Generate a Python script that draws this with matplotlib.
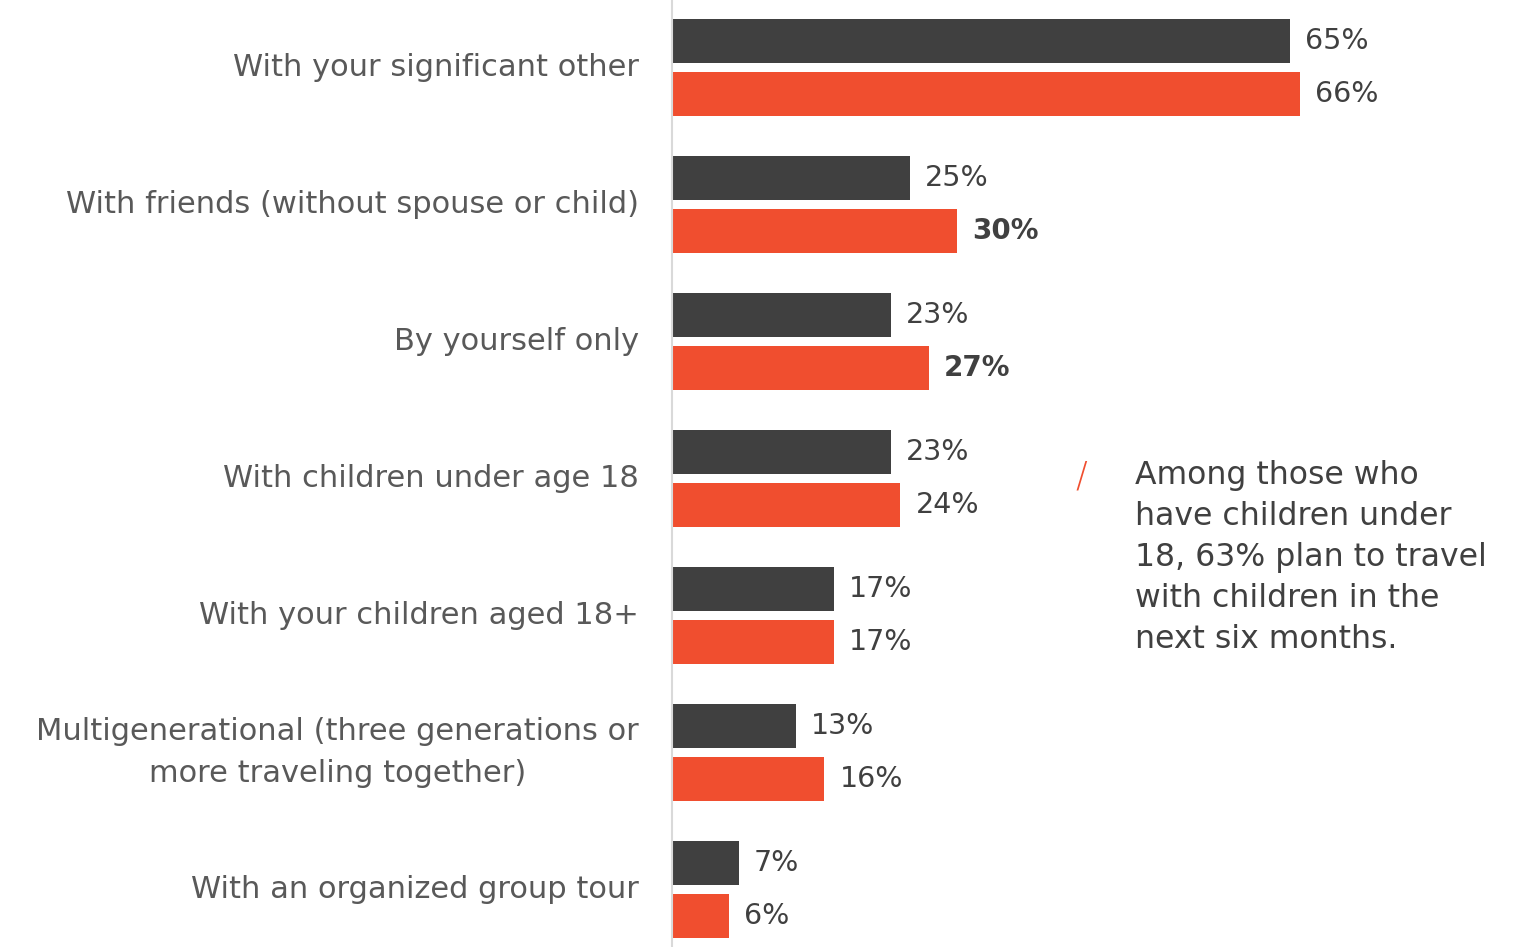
import matplotlib.pyplot as plt

plt.rcParams['font.family'] = ['DejaVu Sans']

categories = [
    "With your significant other",
    "With friends (without spouse or child)",
    "By yourself only",
    "With children under age 18",
    "With your children aged 18+",
    "Multigenerational (three generations or\nmore traveling together)",
    "With an organized group tour",
]
dark_values = [65, 25, 23, 23, 17, 13, 7]
orange_values = [66, 30, 27, 24, 17, 16, 6]
bold_orange = [False, True, True, False, False, False, False]

note = ("Among those who\nhave children under\n18, 63% plan to travel\n"
        "with children in the\nnext six months.")

DARK = "#404040"
ORANGE = "#F04E2F"
LABEL = "#595959"


def main():
    fig = plt.figure(figsize=(15.22, 9.47), dpi=100)
    ax = fig.add_axes([672 / 1522, 0, (1522 - 672) / 1522, 1])

    off = 0.387 / 2
    h = 0.321
    ys = list(range(len(categories)))
    ax.barh([y - off for y in ys], dark_values, height=h, color=DARK)
    ax.barh([y + off for y in ys], orange_values, height=h, color=ORANGE)

    for y, v in zip(ys, dark_values):
        ax.annotate(f"{v}%", (v, y - off), xytext=(11, 0),
                    textcoords="offset points", va="center", ha="left",
                    fontsize=20.5, color=DARK)
    for y, v, b in zip(ys, orange_values, bold_orange):
        ax.annotate(f"{v}%", (v, y + off), xytext=(11, 0),
                    textcoords="offset points", va="center", ha="left",
                    fontsize=20.5 if not b else 20, color=DARK,
                    fontweight="bold" if b else "normal")

    ax.set_xlim(0, 850 / 9.51)
    ax.set_ylim((947 - 67.5) / 137, -67.5 / 137)
    ax.set_yticks(ys)
    ax.set_yticklabels(categories, fontsize=22, color=LABEL)
    for t in ax.get_yticklabels():
        t.set_multialignment("center")
        t.set_linespacing(1.55)
        t.set_verticalalignment("center")
    ax.tick_params(axis="y", length=0, pad=24)
    ax.set_xticks([])
    for s in ["top", "right", "bottom"]:
        ax.spines[s].set_visible(False)
    ax.spines["left"].set_color("#d9d9d9")
    ax.spines["left"].set_linewidth(1.5)

    fig.text(1081 / 1522, 1 - 476 / 947, "/", color=ORANGE, fontsize=25,
             fontweight="light", ha="center", va="center")
    fig.text(1135 / 1522, 1 - 460 / 947, note, color=DARK, fontsize=22.7,
             ha="left", va="top", linespacing=1.42)

    fig.savefig("out.png", dpi=100)


if __name__ == "__main__":
    main()
